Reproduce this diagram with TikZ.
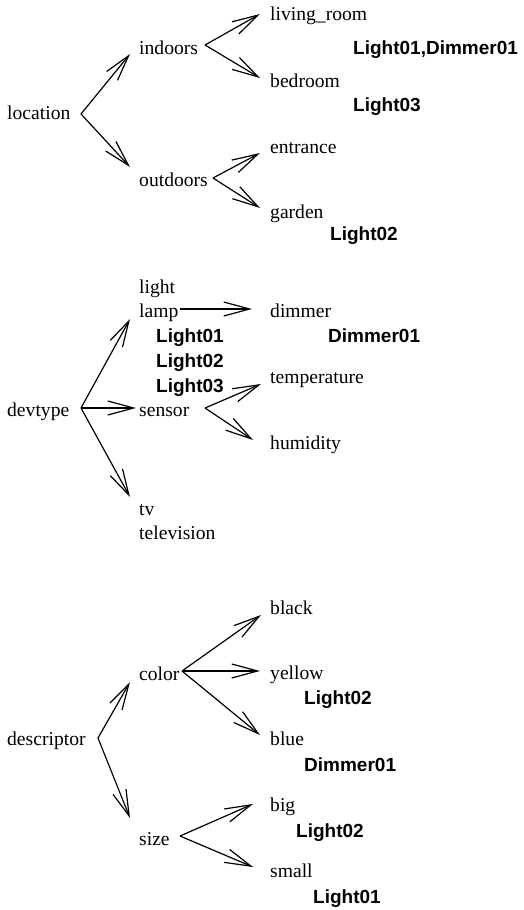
\documentclass[tikz,border=0pt]{standalone}
\usepackage{fontspec}
\setmainfont{Liberation Serif}
\setsansfont{Liberation Sans}
\usetikzlibrary{arrows.meta}

\begin{document}
\begin{tikzpicture}[x=1pt, y=-1pt,
  lbl/.style={inner sep=0pt, anchor=base west, font=\fontsize{19.6}{22}\selectfont},
  dev/.style={inner sep=0pt, anchor=base west, font=\fontsize{19}{22}\selectfont\sffamily\bfseries},
  arr/.style={line width=1.2pt, -{Straight Barb[length=26pt, width=14pt]}}
]
\useasboundingbox (0,0) rectangle (523,910);

% location
\node[lbl] (location) at (7,119) {location};
\node[lbl] (indoors) at (139,54) {indoors};
\node[lbl] (outdoors) at (139,186) {outdoors};
\node[lbl] (living) at (270,20) {living\_room};
\node[lbl] (bedroom) at (270,87) {bedroom};
\node[lbl] (entrance) at (270,153) {entrance};
\node[lbl] (garden) at (270,218) {garden};
\node[dev] (livdev) at (353,54) {Light01,Dimmer01};
\node[dev] (beddev) at (353,111) {Light03};
\node[dev] (gardev) at (330,240) {Light02};
\coordinate (locfork) at (81,114);
\coordinate (indfork) at (205,45);
\coordinate (outfork) at (213,178);
\draw[arr] (locfork) -- ([xshift=-9pt]indoors.base west);
\draw[arr] (locfork) -- ([xshift=-9pt,yshift=19pt]outdoors.base west);
\draw[arr] (indfork) -- ([xshift=-10pt,yshift=6pt]living.base west);
\draw[arr] (indfork) -- ([xshift=-10pt,yshift=9pt]bedroom.base west);
\draw[arr] (outfork) -- ([xshift=-10pt]entrance.base west);
\draw[arr] (outfork) -- ([xshift=-10pt,yshift=10pt]garden.base west);

% devtype
\node[lbl] (devtype) at (7,416) {devtype};
\node[lbl] (light) at (139,293) {light};
\node[lbl] (lamp) at (139,317) {lamp};
\node[lbl] (sensor) at (139,416) {sensor};
\node[lbl] (tv) at (139,515) {tv};
\node[lbl] (television) at (139,539) {television};
\node[lbl] (dimmer) at (270,317) {dimmer};
\node[lbl] (temperature) at (270,383) {temperature};
\node[lbl] (humidity) at (270,449) {humidity};
\node[dev] (lampdev1) at (156,342) {Light01};
\node[dev] (lampdev2) at (156,367) {Light02};
\node[dev] (lampdev3) at (156,392) {Light03};
\node[dev] (dimdev) at (328,342) {Dimmer01};
\coordinate (devfork) at (81,408);
\coordinate (lampfork) at (180,309);
\coordinate (sensfork) at (205,408);
\draw[arr] (devfork) -- ([xshift=-9pt,yshift=-2pt]lamp.base west);
\draw[arr] (devfork) -- ([xshift=-3pt,yshift=8pt]sensor.base west);
\draw[arr] (devfork) -- ([xshift=-9pt,yshift=18pt]tv.base west);
\draw[arr] (lampfork) -- ([xshift=-18pt,yshift=8pt]dimmer.base west);
\draw[arr] (sensfork) -- ([xshift=-9pt,yshift=-1pt]temperature.base west);
\draw[arr] (sensfork) -- ([xshift=-17pt,yshift=9pt]humidity.base west);

% descriptor
\node[lbl] (descriptor) at (7,745) {descriptor};
\node[lbl] (color) at (139,680) {color};
\node[lbl] (size) at (139,845) {size};
\node[lbl] (black) at (270,614) {black};
\node[lbl] (yellow) at (270,679) {yellow};
\node[lbl] (blue) at (270,745) {blue};
\node[lbl] (big) at (270,811) {big};
\node[lbl] (small) at (270,877) {small};
\node[dev] (yeldev) at (304,704) {Light02};
\node[dev] (bludev) at (304,771) {Dimmer01};
\node[dev] (bigdev) at (296,837) {Light02};
\node[dev] (smadev) at (313,903) {Light01};
\coordinate (descfork) at (98,738);
\coordinate (colfork) at (182,671);
\coordinate (sizefork) at (180,836);
\draw[arr] (descfork) -- ([xshift=-9pt,yshift=-2pt]color.base west);
\draw[arr] (descfork) -- ([xshift=-9pt,yshift=27pt]size.base west);
\draw[arr] (colfork) -- ([xshift=-9pt,yshift=-1pt]black.base west);
\draw[arr] (colfork) -- ([xshift=-10pt,yshift=8pt]yellow.base west);
\draw[arr] (colfork) -- ([xshift=-10pt,yshift=10pt]blue.base west);
\draw[arr] (sizefork) -- ([xshift=-17pt,yshift=7pt]big.base west);
\draw[arr] (sizefork) -- ([xshift=-17pt,yshift=10pt]small.base west);
\end{tikzpicture}
\end{document}
